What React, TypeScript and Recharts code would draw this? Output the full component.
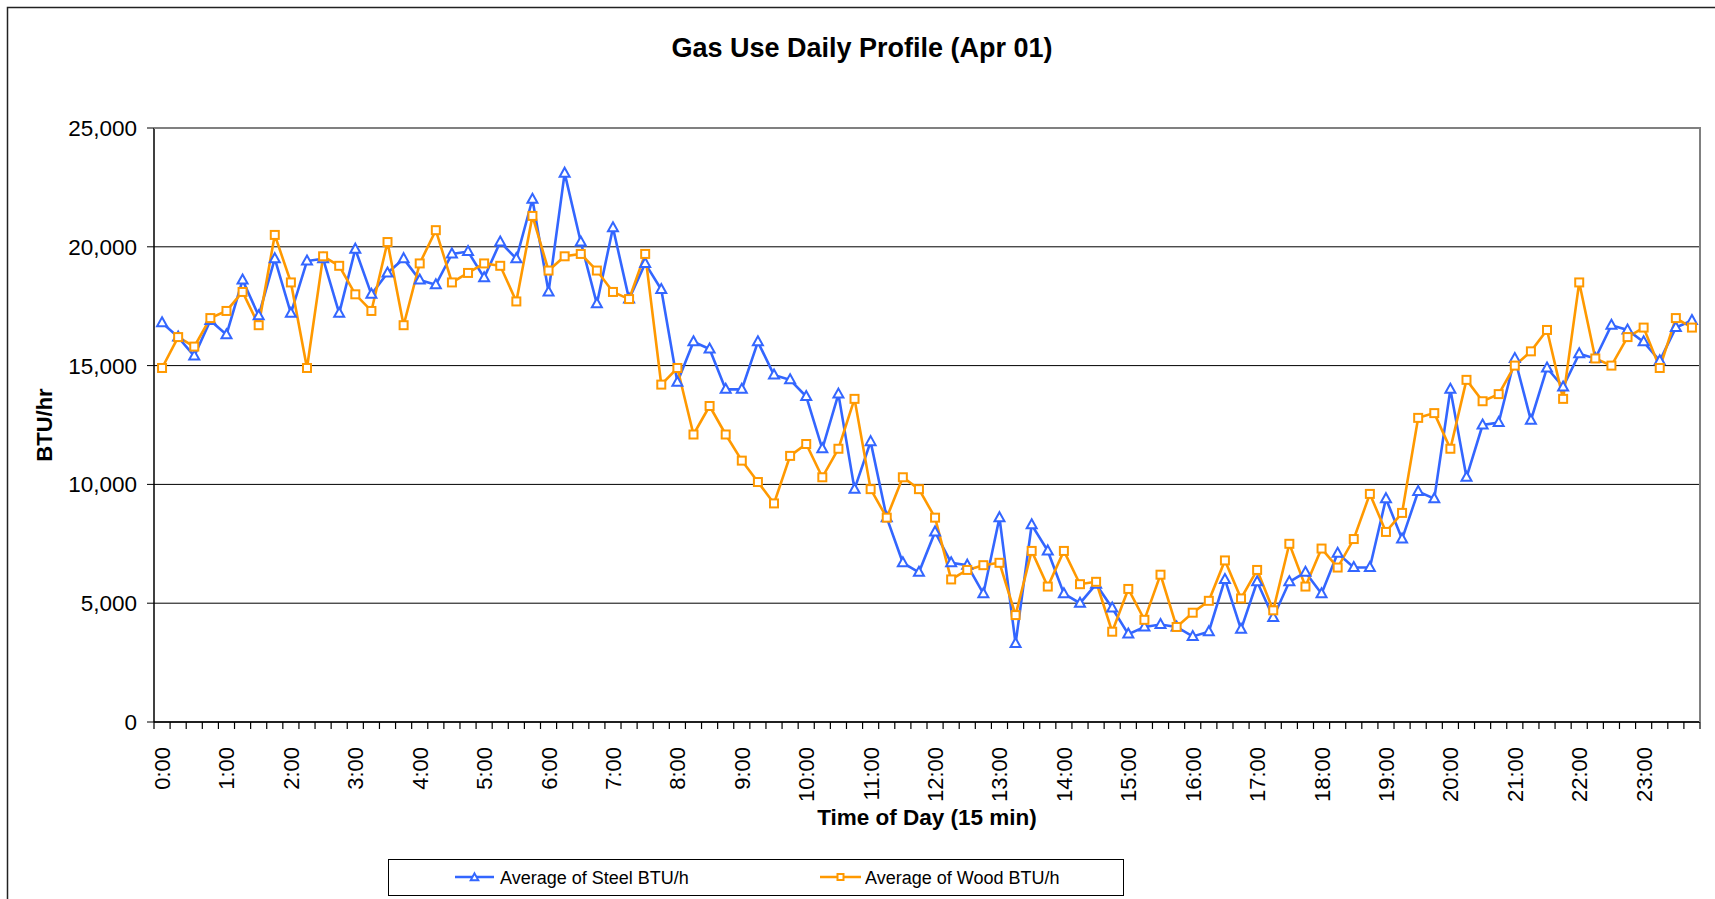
import React from 'react'
import { LineChart, Line, XAxis, YAxis, CartesianGrid } from 'recharts'

// 15-minute slots of the day
const TIMES = [
  '0:00', '0:15', '0:30', '0:45', '1:00', '1:15', '1:30', '1:45',
  '2:00', '2:15', '2:30', '2:45', '3:00', '3:15', '3:30', '3:45',
  '4:00', '4:15', '4:30', '4:45', '5:00', '5:15', '5:30', '5:45',
  '6:00', '6:15', '6:30', '6:45', '7:00', '7:15', '7:30', '7:45',
  '8:00', '8:15', '8:30', '8:45', '9:00', '9:15', '9:30', '9:45',
  '10:00', '10:15', '10:30', '10:45', '11:00', '11:15', '11:30', '11:45',
  '12:00', '12:15', '12:30', '12:45', '13:00', '13:15', '13:30', '13:45',
  '14:00', '14:15', '14:30', '14:45', '15:00', '15:15', '15:30', '15:45',
  '16:00', '16:15', '16:30', '16:45', '17:00', '17:15', '17:30', '17:45',
  '18:00', '18:15', '18:30', '18:45', '19:00', '19:15', '19:30', '19:45',
  '20:00', '20:15', '20:30', '20:45', '21:00', '21:15', '21:30', '21:45',
  '22:00', '22:15', '22:30', '22:45', '23:00', '23:15', '23:30', '23:45',
]

const STEEL = [
  16800, 16200, 15400, 16900, 16300, 18600, 17100, 19500,
  17200, 19400, 19500, 17200, 19900, 18000, 18900, 19500,
  18600, 18400, 19700, 19800, 18700, 20200, 19500, 22000,
  18100, 23100, 20200, 17600, 20800, 17800, 19300, 18200,
  14300, 16000, 15700, 14000, 14000, 16000, 14600, 14400,
  13700, 11500, 13800, 9800, 11800, 8600, 6700, 6300,
  8000, 6700, 6600, 5400, 8600, 3300, 8300, 7200,
  5400, 5000, 5800, 4800, 3700, 4000, 4100, 4000,
  3600, 3800, 6000, 3900, 5900, 4400, 5900, 6300,
  5400, 7100, 6500, 6500, 9400, 7700, 9700, 9400,
  14000, 10300, 12500, 12600, 15300, 12700, 14900, 14100,
  15500, 15300, 16700, 16500, 16000, 15200, 16600, 16900,
]

const WOOD = [
  14900, 16200, 15800, 17000, 17300, 18100, 16700, 20500,
  18500, 14900, 19600, 19200, 18000, 17300, 20200, 16700,
  19300, 20700, 18500, 18900, 19300, 19200, 17700, 21300,
  19000, 19600, 19700, 19000, 18100, 17800, 19700, 14200,
  14900, 12100, 13300, 12100, 11000, 10100, 9200, 11200,
  11700, 10300, 11500, 13600, 9800, 8600, 10300, 9800,
  8600, 6000, 6400, 6600, 6700, 4500, 7200, 5700,
  7200, 5800, 5900, 3800, 5600, 4300, 6200, 4000,
  4600, 5100, 6800, 5200, 6400, 4700, 7500, 5700,
  7300, 6500, 7700, 9600, 8000, 8800, 12800, 13000,
  11500, 14400, 13500, 13800, 15000, 15600, 16500, 13600,
  18500, 15300, 15000, 16200, 16600, 14900, 17000, 16600,
]

const Y_TICKS = [0, 5000, 10000, 15000, 20000, 25000]

const STEEL_COLOR = '#3366FF'
const WOOD_COLOR = '#FF9900'

const W = 1715
const H = 899
const PLOT_L = 154
const PLOT_T = 128
const PLOT_R = 1700
const PLOT_B = 722
const Y_AXIS_W = 80
const X_AXIS_H = 60

const chartData = TIMES.map((time, i) => ({ time, steel: STEEL[i], wood: WOOD[i] }))

const Triangle = ({ cx, cy, size = 1 }: { cx: number; cy: number; size?: number }) => (
  <path
    d={`M${cx},${cy - 5.5 * size} L${cx + 5 * size},${cy + 3.5 * size} L${cx - 5 * size},${cy + 3.5 * size} Z`}
    fill="#fff"
    stroke={STEEL_COLOR}
    strokeWidth={2}
  />
)

const Square = ({ cx, cy, size = 1 }: { cx: number; cy: number; size?: number }) => (
  <rect x={cx - 4 * size} y={cy - 4 * size} width={8 * size} height={8 * size} fill="#fff" stroke={WOOD_COLOR} strokeWidth={2} />
)

const TimeTick = (props: any) => {
  const { x, y, index, payload } = props
  const half = payload && payload.offset ? payload.offset : (PLOT_R - PLOT_L) / TIMES.length / 2
  const isLast = index === TIMES.length - 1
  return (
    <g>
      <line x1={x - half} x2={x - half} y1={y} y2={y + 7} stroke="#000" strokeWidth={1.2} />
      {isLast && <line x1={x + half} x2={x + half} y1={y} y2={y + 7} stroke="#000" strokeWidth={1.2} />}
      {index % 4 === 0 && (
        <text transform={`translate(${x + 8}, ${y + 25}) rotate(-90)`} textAnchor="end" fontSize={22} fill="#000">
          {payload.value}
        </text>
      )}
    </g>
  )
}

export default function App() {
  return (
    <div
      style={{
        position: 'absolute',
        left: 0,
        top: 0,
        width: W,
        height: H,
        background: '#fff',
        overflow: 'hidden',
        fontFamily: '"Liberation Sans", Arial, sans-serif',
      }}
    >
      <LineChart
        width={W}
        height={H}
        data={chartData}
        margin={{ top: PLOT_T, right: W - PLOT_R, left: PLOT_L - Y_AXIS_W, bottom: H - PLOT_B - X_AXIS_H }}
      >
        <CartesianGrid vertical={false} stroke="#000" strokeWidth={1} />
        <XAxis
          dataKey="time"
          scale="band"
          interval={0}
          height={X_AXIS_H}
          tickSize={0}
          tickMargin={0}
          tickLine={false}
          tick={<TimeTick />}
          axisLine={{ stroke: '#000', strokeWidth: 1.5 }}
        />
        <YAxis
          width={Y_AXIS_W}
          domain={[0, 25000]}
          ticks={Y_TICKS}
          tickSize={7}
          tickMargin={10}
          tickFormatter={(v: number) => v.toLocaleString('en-US')}
          tick={{ fontSize: 22.5, fill: '#000' }}
          tickLine={{ stroke: '#000' }}
          axisLine={{ stroke: '#000', strokeWidth: 1.5 }}
        />
        <Line
          type="linear"
          dataKey="steel"
          stroke={STEEL_COLOR}
          strokeWidth={2.6}
          isAnimationActive={false}
          activeDot={false}
          dot={(p: any) => <Triangle key={`s-${p.index}`} cx={p.cx} cy={p.cy} />}
        />
        <Line
          type="linear"
          dataKey="wood"
          stroke={WOOD_COLOR}
          strokeWidth={2.6}
          isAnimationActive={false}
          activeDot={false}
          dot={(p: any) => <Square key={`w-${p.index}`} cx={p.cx} cy={p.cy} />}
        />
      </LineChart>

      {/* frame, titles and legend */}
      <svg width={W} height={H} style={{ position: 'absolute', left: 0, top: 0, pointerEvents: 'none' }}>
        <rect x={7.5} y={7.5} width={W + 40} height={H + 40} fill="none" stroke="#222" strokeWidth={1.5} />
        <line x1={PLOT_L} x2={PLOT_R} y1={PLOT_T} y2={PLOT_T} stroke="#808080" strokeWidth={2} />
        <line x1={PLOT_R} x2={PLOT_R} y1={PLOT_T - 1} y2={PLOT_B} stroke="#808080" strokeWidth={2} />
        <text x={862} y={57} textAnchor="middle" fontSize={27} fontWeight="bold" fill="#000">
          Gas Use Daily Profile (Apr 01)
        </text>
        <text transform="translate(52, 425) rotate(-90)" textAnchor="middle" fontSize={22} fontWeight="bold" fill="#000">
          BTU/hr
        </text>
        <text x={(PLOT_L + PLOT_R) / 2} y={825} textAnchor="middle" fontSize={22.5} fontWeight="bold" fill="#000">
          Time of Day (15 min)
        </text>
        <rect x={388.5} y={859.5} width={735} height={36} fill="#fff" stroke="#000" strokeWidth={1} />
        <line x1={455} x2={494} y1={877} y2={877} stroke={STEEL_COLOR} strokeWidth={2.5} />
        <Triangle cx={474.5} cy={877.5} size={0.75} />
        <text x={500} y={884} fontSize={18} fill="#000">
          Average of Steel BTU/h
        </text>
        <line x1={820} x2={861} y1={877} y2={877} stroke={WOOD_COLOR} strokeWidth={2.5} />
        <Square cx={840.5} cy={877} size={0.75} />
        <text x={865} y={884} fontSize={18} fill="#000">
          Average of Wood BTU/h
        </text>
      </svg>
    </div>
  )
}
